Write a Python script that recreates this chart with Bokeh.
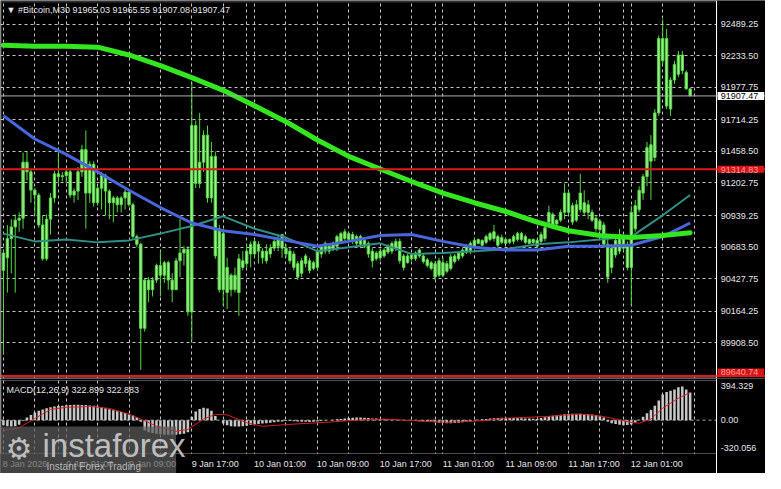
from bokeh.plotting import figure
from bokeh.layouts import column
from bokeh.models import (FixedTicker, PrintfTickFormatter, Grid, Label, Span,
                          ColumnDataSource, Range1d, LinearAxis, BoxAnnotation)
from bokeh.embed import file_html
from bokeh.resources import INLINE

# ---------------- data ----------------
bars = list(range(176))
opens = [90495, 90597, 90753, 90847, 90902, 90918, 91371, 91293, 91145, 91105,
         90863, 90589, 90910, 91082, 91277, 91254, 91262, 91293, 91105, 91137,
         91293, 91473, 91121, 91355, 91043, 91160, 91262, 91137, 91043, 91082,
         91027, 91082, 91129, 91027, 90769, 90707, 90026, 90417, 90339, 90417,
         90535, 90456, 90558, 90417, 90339, 90573, 90636, 90667, 90159, 91668,
         91199, 91371, 91590, 91082, 91418, 90832, 90339, 90519, 90339, 90456,
         90316, 90519, 90550, 90628, 90730, 90651, 90651, 90573, 90628, 90675,
         90691, 90785, 90675, 90651, 90628, 90550, 90472, 90550, 90573, 90511,
         90519, 90628, 90651, 90691, 90667, 90691, 90730, 90753, 90793, 90785,
         90714, 90769, 90691, 90714, 90651, 90589, 90597, 90612, 90644, 90651,
         90675, 90730, 90612, 90558, 90589, 90589, 90612, 90612, 90581, 90558,
         90550, 90456, 90558, 90488, 90511, 90566, 90589, 90612, 90644, 90651,
         90691, 90714, 90738, 90722, 90746, 90753, 90769, 90722, 90746, 90722,
         90730, 90746, 90793, 90769, 90714, 90746, 90691, 90730, 90753, 90886,
         90949, 90871, 90902, 90965, 91121, 91019, 90902, 90988, 91043, 91027,
         90965, 90918, 90894, 90863, 90707, 90519, 90620, 90785, 90675, 90707,
         90519, 90832, 90988, 91121, 91254, 91512, 91410, 91770, 92372, 92372,
         91801, 92036, 92083, 92239, 92098, 91965.03]
highs = [90667, 90863, 90910, 90949, 90965, 91449, 91457, 91309, 91160, 91121,
         90941, 90949, 91121, 91301, 91489, 91293, 91316, 91309, 91160, 91332,
         91512, 91629, 91379, 91379, 91176, 91293, 91277, 91152, 91098, 91098,
         91098, 91152, 91152, 91043, 90785, 90720, 90433, 90441, 90441, 90550,
         90651, 90573, 90573, 90472, 90597, 90910, 90691, 90691, 92020, 91708,
         91770, 91629, 91668, 91535, 91457, 90863, 90832, 90597, 90472, 90519,
         90628, 90651, 90707, 90730, 90753, 90730, 90675, 90707, 90707, 90753,
         90785, 90785, 90707, 90675, 90651, 90573, 90597, 90628, 90597, 90573,
         90675, 90707, 90730, 90707, 90730, 90785, 90808, 90832, 90808, 90808,
         90785, 90785, 90753, 90730, 90675, 90651, 90675, 90675, 90707, 90730,
         90753, 90753, 90628, 90628, 90628, 90651, 90675, 90628, 90597, 90573,
         90573, 90597, 90597, 90573, 90628, 90628, 90651, 90675, 90707, 90730,
         90753, 90753, 90746, 90785, 90808, 90863, 90785, 90785, 90753, 90753,
         90785, 90808, 90808, 90785, 90753, 90753, 90753, 90808, 90886, 91019,
         90965, 90910, 90988, 91199, 91144, 91043, 91066, 91277, 91144, 91066,
         90988, 90941, 90910, 90886, 90753, 90707, 90753, 90832, 90785, 90730,
         91019, 91066, 91176, 91277, 91535, 91590, 91801, 92396, 92528, 92450,
         92059, 92192, 92271, 92271, 92114, 91965.55]
lows = [89815, 90315, 90472, 90315, 90808, 90832, 91223, 91043, 90941, 90840,
        90573, 90573, 90785, 91043, 91199, 91215, 91199, 91082, 91043, 91066,
        91254, 90832, 91043, 91011, 91019, 90988, 90941, 90910, 90886, 90964,
        90964, 90988, 91011, 90753, 90683, 89690, 90000, 90237, 90284, 90394,
        90284, 90394, 90339, 90237, 90339, 90441, 90534, 90128, 89925, 91160,
        91160, 91293, 91043, 91043, 90589, 90315, 90206, 90182, 90284, 90316,
        90128, 90495, 90519, 90519, 90597, 90550, 90550, 90550, 90597, 90651,
        90651, 90597, 90597, 90550, 90495, 90417, 90441, 90519, 90472, 90495,
        90495, 90597, 90628, 90628, 90651, 90651, 90707, 90730, 90730, 90707,
        90691, 90675, 90675, 90597, 90519, 90573, 90573, 90597, 90628, 90628,
        90651, 90550, 90495, 90550, 90573, 90573, 90597, 90550, 90519, 90495,
        90417, 90441, 90441, 90472, 90495, 90550, 90573, 90597, 90628, 90628,
        90675, 90707, 90691, 90707, 90730, 90730, 90675, 90707, 90707, 90707,
        90707, 90730, 90730, 90707, 90707, 90707, 90675, 90707, 90730, 90863,
        90832, 90855, 90886, 90910, 90941, 90863, 90886, 90965, 90941, 90910,
        90886, 90808, 90808, 90675, 90394, 90472, 90597, 90628, 90651, 90495,
        90206, 90808, 90965, 91066, 91176, 91066, 91379, 91746, 92161, 91801,
        91746, 92005, 92059, 92083, 91958, 91907.08]
closes = [90636, 90753, 90847, 90902, 90918, 91371, 91293, 91145, 91105, 90863,
          90589, 90910, 91082, 91277, 91254, 91262, 91293, 91105, 91137, 91293,
          91473, 91121, 91355, 91043, 91160, 91262, 91137, 91043, 91082, 91027,
          91082, 91129, 91027, 90769, 90707, 90026, 90417, 90339, 90417, 90535,
          90456, 90558, 90417, 90339, 90573, 90636, 90667, 90159, 91668, 91199,
          91371, 91590, 91082, 91418, 90612, 90339, 90793, 90316, 90456, 90339,
          90589, 90573, 90651, 90707, 90628, 90707, 90597, 90651, 90675, 90730,
          90753, 90675, 90628, 90573, 90519, 90441, 90573, 90612, 90495, 90558,
          90651, 90691, 90714, 90651, 90714, 90769, 90793, 90808, 90746, 90730,
          90769, 90707, 90738, 90628, 90573, 90636, 90651, 90660, 90691, 90714,
          90730, 90573, 90519, 90612, 90620, 90636, 90660, 90566, 90535, 90511,
          90441, 90573, 90456, 90550, 90605, 90612, 90636, 90660, 90691, 90714,
          90738, 90746, 90699, 90769, 90793, 90808, 90699, 90761, 90714, 90746,
          90769, 90793, 90746, 90722, 90746, 90722, 90738, 90785, 90840, 90964,
          90847, 90902, 90965, 91121, 90965, 90886, 91027, 91121, 90965, 90965,
          90902, 90832, 90824, 90707, 90441, 90675, 90738, 90651, 90769, 90519,
          90965, 91019, 91144, 91254, 91489, 91379, 91770, 92372, 92192, 91825,
          92036, 92161, 92239, 92114, 91965, 91907.47]

ma_idx = [0, 8, 16, 24, 32, 40, 48, 56, 64, 72, 80, 88, 96, 104, 112, 120,
          128, 136, 144, 152, 160, 168, 175]
ma_slow = [92317, 92310, 92310, 92302, 92239, 92153, 92055, 91953, 91828, 91699,
           91551, 91418, 91316, 91215, 91121, 91043, 90972, 90886, 90816, 90777,
           90761, 90777, 90800]
ma_mid = [91747, 91559, 91434, 91293, 91144, 91004, 90879, 90816, 90785, 90738,
          90691, 90730, 90777, 90785, 90730, 90683, 90660, 90660, 90691, 90691,
          90699, 90769, 90879]
ma_fast = [90793, 90730, 90746, 90722, 90738, 90793, 90855, 90933, 90832, 90761,
           90651, 90683, 90714, 90628, 90636, 90651, 90667, 90707, 90722, 90746,
           90769, 90941, 91105]

macd_hist = [-60, -70, -75, -70, -55, -10, 30,
             60, 90, 110, 125, 140, 150, 160, 165,
             170, 175, 178, 180, 180, 178, 176, 172, 168,
             160, 150, 140, 128, 115, 105, 95, 85, 70, 55, 35,
             -20,
             -120, -140, -150, -160, -165, -170, -170, -172, -170, -165, -160, -140,
             40, 100, 130, 145, 135, 110, 50, 0,
             -40, -60, -70, -75, -75, -70, -65,
             -55, -50, -45, -40, -35, -30, -25, -20,
             -15, -10, -10, -12, -15, -18, -20, -22, -20, -15, -10, -5, 0, 5, 10,
             15, 20, 25, 28, 30, 30, 28, 25, 20, 18, 15, 12, 10, 8, 5,
             2, -2, -5, -8, -10, -12, -15, -18, -20, -25,
             -30, -32, -35, -35, -33, -30, -25, -20, -12, -5,
             5, 10, 15, 20, 23, 25, 27, 27, 26, 25, 24, 22, 20, 18, 16, 15,
             25, 35, 45, 52, 58, 63, 68, 72, 74, 75, 75, 73, 70, 66, 60, 52, 30,
             -20, -35, -45, -55, -60, -58, -50, -30,
             5, 40, 80, 120, 170, 230, 300, 330, 345, 360, 385, 394.329, 360, 322.899]
sig_idx = [0, 4, 8, 12, 16, 22, 27, 32, 35, 39, 44, 47, 51, 54, 57, 62, 66, 74,
           82, 91, 97, 105, 113, 122, 128, 138, 147, 153, 160, 162, 165, 168, 172, 175]
sig_val = [-121, -90, 20, 125, 150, 160, 138, 70, 13, -70, -130, -108, 13, 68, 62,
           -30, -72, -46, -26, 3, 13, -7, -26, -7, 23, 42, 71, 42, -26, -36, 13,
           140, 257, 322.883]

price_ticks = [89908.50, 90164.25, 90427.75, 90683.50, 90939.25, 91202.75,
               91458.50, 91714.25, 91977.75, 92233.50, 92489.25]
macd_ticks = [-320.056, 0.0, 394.329]
macd_tick_labels = ["-320.056", "0.00", "394.329"]
time_tick_bars = [0, 16, 32, 48, 64, 80, 96, 112, 128, 144, 160]
time_tick_labels = ["8 Jan 2026", "9 Jan 01:00", "9 Jan 09:00", "9 Jan 17:00",
                    "10 Jan 01:00", "10 Jan 09:00", "10 Jan 17:00", "11 Jan 01:00",
                    "11 Jan 09:00", "11 Jan 17:00", "12 Jan 01:00"]
grid_bars = list(range(0, 177, 8)) + [14, 62, 110, 158]
red_levels = [91314.83, 89640.74]
last_price = 91907.47
title_text = "\u25BC #Bitcoin,M30  91965.03 91965.55 91907.08 91907.47"
macd_text = "MACD(12,26,9) 322.899 322.883"
logo_text = "instaforex"
logo_sub = "Instant Forex Trading"

# ---------------- layout / style constants ----------------
FONT = "Liberation Sans"
FS = "9px"
TXT = "#e6e6e6"
GRIDC = "#c4c4c4"
W = 765
X0, XEDGE, X1 = -0.5, 181.75, 194.2       # chart left, chart right edge, canvas right
P_LO, P_HI = 89627, 92669                 # main chart box
M_LO, M_HI = -390, 464                    # macd box

xr = Range1d(-0.75, X1)


def base_fig(h, yr):
    f = figure(width=W, height=h, x_range=xr, y_range=yr,
               output_backend="svg", toolbar_location=None,
               x_axis_location=None, y_axis_location=None,
               background_fill_color="black", border_fill_color="black",
               min_border_left=0, min_border_right=0, min_border_top=0,
               min_border_bottom=0)
    f.outline_line_color = None
    f.grid.visible = False
    return f


def right_axis(f, ticks):
    a = LinearAxis(fixed_location=XEDGE, ticker=FixedTicker(ticks=ticks))
    a.axis_line_color = "white"
    a.major_tick_line_color = None
    a.minor_tick_line_color = None
    a.major_tick_out = 0
    a.major_tick_in = 0
    a.major_label_standoff = 4
    a.major_label_text_color = TXT
    a.major_label_text_font = FONT
    a.major_label_text_font_size = FS
    return a


# ================= main price panel =================
p = base_fig(378, Range1d(89620, 92680))
p.add_layout(Grid(dimension=0, ticker=FixedTicker(ticks=grid_bars),
                  grid_line_color=GRIDC, grid_line_dash="3 3", grid_line_width=1))
p.add_layout(Grid(dimension=1, ticker=FixedTicker(ticks=price_ticks),
                  grid_line_color=GRIDC, grid_line_dash="3 3", grid_line_width=1))
# black strip behind the price scale (hides grid there)
p.add_layout(BoxAnnotation(left=XEDGE, fill_color="black", fill_alpha=1,
                           line_color=None, level="underlay"))
p.add_layout(BoxAnnotation(top=P_LO, fill_color="black", fill_alpha=1,
                           line_color=None, level="underlay"))

pa = right_axis(p, price_ticks)
pa.formatter = PrintfTickFormatter(format="%.2f")
p.add_layout(pa, "right")

tops = [max(o, c) for o, c in zip(opens, closes)]
bots = [min(o, c) for o, c in zip(opens, closes)]
src = ColumnDataSource(dict(x=bars, h=highs, l=lows, top=tops, bot=bots))
p.segment(x0="x", y0="h", x1="x", y1="l", source=src, line_color="#56d844", line_width=1)
p.vbar(x="x", width=0.6, top="top", bottom="bot", source=src,
       fill_color="#9bef8c", line_color="#56d844", line_width=1)

p.line(ma_idx, ma_fast, line_color="#2f8f86", line_width=2)
p.line(ma_idx, ma_mid, line_color="#4a66dc", line_width=3)
p.line(ma_idx, ma_slow, line_color="#33e61f", line_width=5, line_cap="round",
       line_join="round")

for lv in red_levels:
    p.add_layout(Span(location=lv, dimension="width", line_color="#e01a1a", line_width=2))
p.add_layout(Span(location=last_price, dimension="width", line_color="#b0b0b0", line_width=1))

# chart border
p.add_layout(BoxAnnotation(left=X0 - 0.1, right=XEDGE, bottom=P_LO, top=P_HI,
                           fill_alpha=0, line_color="white", line_width=1))

p.add_layout(Label(x=X0, y=P_HI, x_offset=5, y_offset=-3, text=title_text,
                   text_baseline="top", text_align="left", text_color=TXT,
                   text_font=FONT, text_font_size=FS))

p.add_layout(Label(x=XEDGE, y=last_price, x_offset=1, text="%.2f" % last_price,
                   text_baseline="middle", text_align="left", text_color="black",
                   text_font=FONT, text_font_size=FS, background_fill_color="white",
                   padding=dict(left=3, right=6, top=1, bottom=1)))
for lv, yoff in zip(red_levels, [0, 4]):
    p.add_layout(Label(x=XEDGE, y=lv, x_offset=1, y_offset=yoff, text="%.2f" % lv,
                       text_baseline="middle", text_align="left", text_color="#ff9a9a",
                       text_font=FONT, text_font_size=FS, background_fill_color="#d81414",
                       padding=dict(left=3, right=6, top=1, bottom=0)))

# ================= MACD panel =================
q = base_fig(95, Range1d(-624, 487.4))
q.add_layout(Grid(dimension=0, ticker=FixedTicker(ticks=grid_bars),
                  grid_line_color=GRIDC, grid_line_dash="3 3", grid_line_width=1))
q.add_layout(Span(location=0, dimension="width", line_color="#a8a8a8",
                  line_dash="3 3", line_width=1, level="underlay"))
q.add_layout(BoxAnnotation(left=XEDGE, fill_color="black", fill_alpha=1,
                           line_color=None, level="underlay"))
q.add_layout(BoxAnnotation(top=M_LO, fill_color="black", fill_alpha=1,
                           line_color=None, level="underlay"))
q.add_layout(BoxAnnotation(bottom=M_HI, fill_color="black", fill_alpha=1,
                           line_color=None, level="underlay"))

qa = right_axis(q, macd_ticks)
qa.major_label_overrides = {t: s for t, s in zip(macd_ticks, macd_tick_labels)}
q.add_layout(qa, "right")

label_pos = [b + round(0.55 * len(s) * 2) / 2 for b, s in zip(time_tick_bars, time_tick_labels)]
xa = LinearAxis(fixed_location=M_LO, ticker=FixedTicker(ticks=label_pos))
xa.major_label_overrides = {t: s for t, s in zip(label_pos, time_tick_labels)}
xa.axis_line_color = None
xa.major_tick_line_color = None
xa.minor_tick_line_color = None
xa.major_tick_out = 0
xa.major_tick_in = 0
xa.major_label_standoff = 6
xa.major_label_text_color = TXT
xa.major_label_text_font = FONT
xa.major_label_text_font_size = FS
q.add_layout(xa, "below")

q.vbar(x=bars, top=macd_hist, bottom=0, width=0.65, fill_color="#c8c8c8", line_color=None)
q.line(sig_idx, sig_val, line_color="#d42020", line_width=1)

q.add_layout(BoxAnnotation(left=X0 - 0.1, right=XEDGE, bottom=M_LO, top=M_HI,
                           fill_alpha=0, line_color="white", line_width=1))

q.add_layout(Label(x=X0, y=M_HI, x_offset=5, y_offset=-4, text=macd_text,
                   text_baseline="top", text_align="left", text_color=TXT,
                   text_font=FONT, text_font_size=FS))

# watermark (semi-transparent box with logo text)
q.add_layout(BoxAnnotation(left=-0.75, right=44, top=-74, fill_color="#5c5c5c",
                           fill_alpha=0.72, line_color=None, level="annotation"))
q.add_layout(Label(x=-0.75, y=-74, x_offset=5, y_offset=-5, text="\u2699",
                   text_baseline="top", text_align="left", text_color="#cfcfcf",
                   text_alpha=0.9, text_font="DejaVu Sans", text_font_size="30px"))
q.add_layout(Label(x=-0.75, y=-74, x_offset=42, y_offset=-1, text=logo_text,
                   text_baseline="top", text_align="left", text_color="#cfcfcf",
                   text_alpha=0.9, text_font=FONT, text_font_size="33px"))
q.add_layout(Label(x=-0.75, y=-74, x_offset=46, y_offset=-35, text=logo_sub,
                   text_baseline="top", text_align="left", text_color="#c2c2c2",
                   text_alpha=0.9, text_font=FONT, text_font_size="10px"))

layout = column(p, q, spacing=0)
open("out.html", "w").write(file_html(layout, INLINE))
